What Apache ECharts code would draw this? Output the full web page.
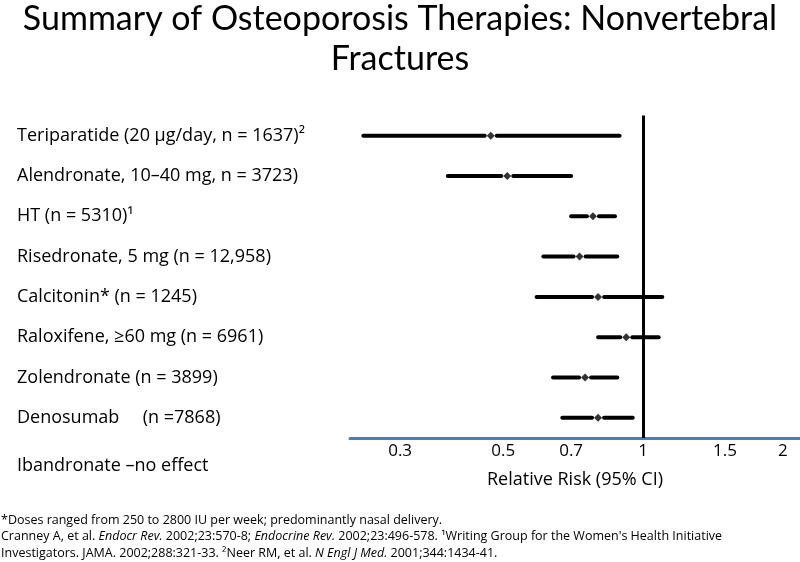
<!DOCTYPE html>
<html><head><meta charset="utf-8">
<script src="https://cdn.jsdelivr.net/npm/echarts@6/dist/echarts.min.js"></script>
<style>html,body{margin:0;padding:0;background:#fff}#c{width:800px;height:562px}</style>
</head><body><div id="c"></div>
<script>
const therapies = [
  'Teriparatide (20 µg/day, n = 1637)²',
  'Alendronate, 10–40 mg, n = 3723)',
  'HT (n = 5310)¹',
  'Risedronate, 5 mg (n = 12,958)',
  'Calcitonin* (n = 1245)',
  'Raloxifene, ≥60 mg (n = 6961)',
  'Zolendronate (n = 3899)',
  'Denosumab     (n =7868)'
];
const relativeRisk = [0.47, 0.51, 0.78, 0.73, 0.80, 0.92, 0.75, 0.80];
const ciLower      = [0.25, 0.38, 0.70, 0.61, 0.59, 0.80, 0.64, 0.67];
const ciUpper      = [0.89, 0.70, 0.87, 0.88, 1.10, 1.08, 0.88, 0.95];
const tickValues = [0.3, 0.5, 0.7, 1, 1.5, 2];
const noEffectRows = ['Ibandronate –no effect'];
const titleText = 'Summary of Osteoporosis Therapies: Nonvertebral\nFractures';
const axisTitle = 'Relative Risk (95% CI)';
const footnotes = [
  '*Doses ranged from 250 to 2800 IU per week; predominantly nasal delivery.',
  'Cranney A, et al. {i|Endocr Rev.} 2002;23:570-8; {i|Endocrine Rev.} 2002;23:496-578. ¹Writing Group for the Women\'s Health Initiative',
  'Investigators. JAMA. 2002;288:321-33. ²Neer RM, et al. {i|N Engl J Med.} 2001;344:1434-41.'
];

const TFONT = 'Lato';
const FONT = 'Open Sans';
const chart = echarts.init(document.getElementById('c'), null, {renderer: 'canvas'});
const option = {
  animation: false,
  backgroundColor: '#fff',
  title: {
    text: titleText,
    left: 'center',
    top: -6,
    textStyle: {fontFamily: TFONT, fontSize: 34, fontWeight: 'normal', color: '#000', lineHeight: 40}
  },
  grid: {left: 350, right: 0, top: 115.5, bottom: 124, containLabel: false, outerBoundsMode: 'none'},
  xAxis: {
    type: 'log',
    logBase: 10,
    min: 0.234,
    max: 2.176,
    axisLine: {show: true, lineStyle: {color: '#4a7ebb', width: 3}},
    axisTick: {show: false},
    splitLine: {show: false},
    minorTick: {show: false},
    axisLabel: {
      customValues: tickValues,
      fontFamily: FONT, fontSize: 17, color: '#000', margin: 5,
      formatter: v => String(+(+v).toPrecision(3))
    },
    name: axisTitle,
    nameLocation: 'middle',
    nameGap: 33,
    nameTextStyle: {fontFamily: FONT, fontSize: 18, color: '#000'}
  },
  yAxis: {
    type: 'category',
    data: therapies,
    inverse: true,
    axisLine: {show: false},
    axisTick: {show: false},
    splitLine: {show: false},
    axisLabel: {align: 'left', margin: 333, fontFamily: FONT, fontSize: 18, color: '#000'}
  },
  series: [
    {
      type: 'custom',
      data: therapies.map((t, i) => [i, ciLower[i], ciUpper[i], relativeRisk[i]]),
      encode: {y: 0, x: [1, 2, 3]},
      renderItem: function (params, api) {
        const cat = api.value(0);
        const lo = api.coord([api.value(1), cat]);
        const hi = api.coord([api.value(2), cat]);
        const mid = api.coord([api.value(3), cat]);
        const gap = 6;
        const style = {stroke: '#000', lineWidth: 4, lineCap: 'round'};
        return {type: 'group', children: [
          {type: 'line', shape: {x1: lo[0], y1: lo[1], x2: mid[0] - gap, y2: mid[1]}, style: style},
          {type: 'line', shape: {x1: mid[0] + gap, y1: mid[1], x2: hi[0], y2: hi[1]}, style: style}
        ]};
      },
      z: 3
    },
    {
      type: 'scatter',
      data: relativeRisk.map((v, i) => [v, therapies[i]]),
      symbol: 'diamond',
      symbolSize: 8,
      itemStyle: {color: '#000'},
      z: 4,
      markLine: {
        silent: true,
        symbol: 'none',
        label: {show: false},
        lineStyle: {color: '#000', width: 3, type: 'solid'},
        data: [{xAxis: 1}]
      }
    }
  ],
  graphic: [
    {
      type: 'text', left: 17, top: 457,
      style: {text: noEffectRows[0], fontFamily: FONT, fontSize: 18, fill: '#000'}
    },
    {
      type: 'text', left: 1, top: 512,
      style: {
        text: footnotes.join('\n'),
        fontFamily: FONT, fontSize: 12.5, lineHeight: 16.5, fill: '#000',
        rich: {i: {fontStyle: 'italic', fontFamily: FONT, fontSize: 12.5, lineHeight: 16.5, fill: '#000'}}
      }
    }
  ]
};
chart.setOption(option);
</script>
</body></html>
